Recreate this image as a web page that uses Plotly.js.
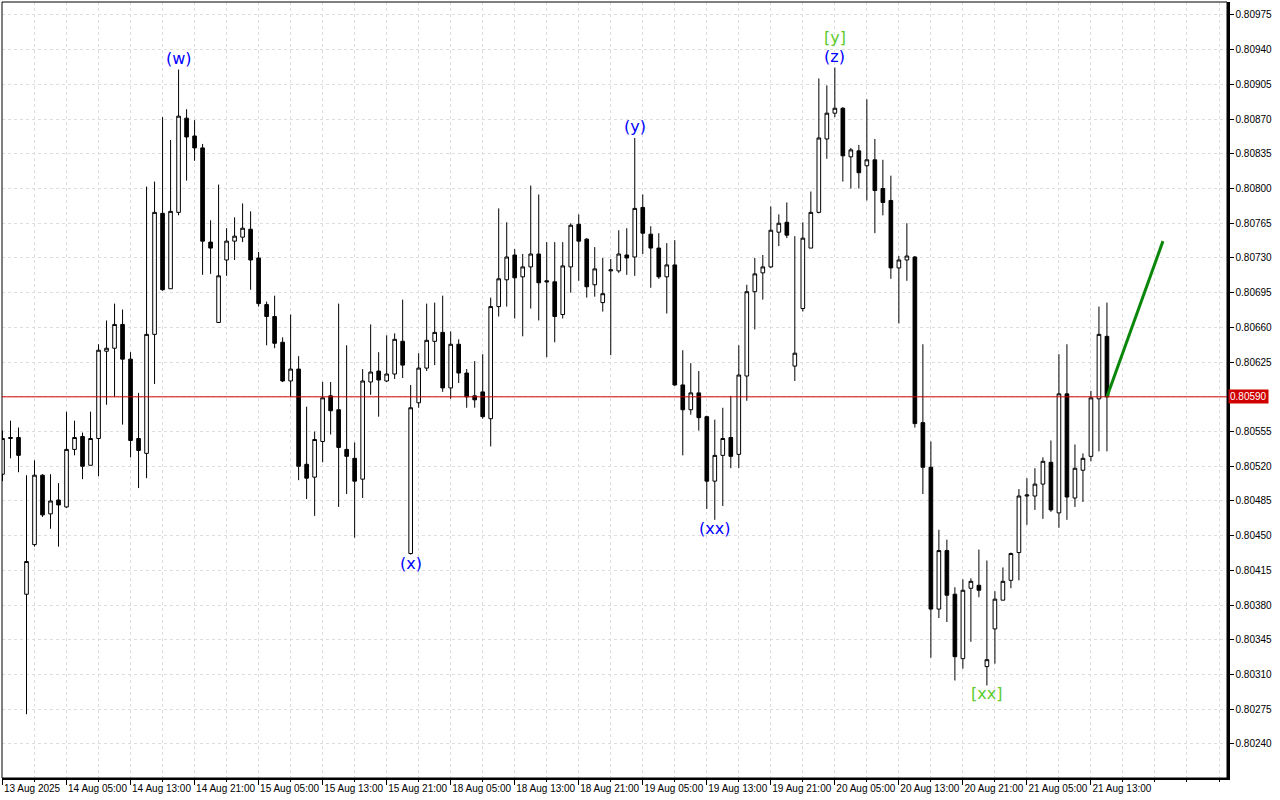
<!DOCTYPE html>
<html>
<head>
<meta charset="utf-8">
<script src="https://cdn.plot.ly/plotly-3.0.1.min.js"></script>
<style>
html,body{margin:0;padding:0;background:#ffffff;}
#chart{width:1280px;height:800px;}
</style>
</head>
<body>
<div id="chart"></div>
<script>
// ---- Data (H1 bars, 13 Aug 2025 21:00 .. 21 Aug 2025 18:00) ----
const opens = [
 0.80512,0.80548,0.80549,0.80391,0.80441,0.80511,0.80472,0.80486,0.80479,0.80537,
 0.80550,0.80521,0.80548,0.80636,0.80639,0.80663,0.80628,0.80548,0.80533,0.80653,
 0.80775,0.80699,0.80776,0.80871,0.80853,0.80841,0.80746,0.80665,0.80728,0.80747,
 0.80751,0.80759,0.80730,0.80683,0.80671,0.80645,0.80606,0.80618,0.80522,0.80509,
 0.80545,0.80591,0.80577,0.80537,0.80528,0.80507,0.80605,0.80616,0.80606,0.80613,
 0.80646,0.80432,0.80584,0.80619,0.80646,0.80655,0.80599,0.80643,0.80614,0.80591,
 0.80595,0.80568,0.80681,0.80708,0.80733,0.80711,0.80721,0.80734,0.80707,0.80706,
 0.80673,0.80721,0.80764,0.80749,0.80703,0.80685,0.80717,0.80717,0.80733,0.80731,
 0.80781,0.80754,0.80740,0.80711,0.80723,0.80602,0.80577,0.80594,0.80570,0.80505,
 0.80531,0.80549,0.80532,0.80611,0.80696,0.80715,0.80721,0.80756,0.80766,0.80621,
 0.80679,0.80740,0.80776,0.80850,0.80876,0.80881,0.80832,0.80838,0.80823,0.80829,
 0.80800,0.80788,0.80720,0.80728,0.80731,0.80564,0.80519,0.80376,0.80435,0.80391,
 0.80326,0.80397,0.80400,0.80318,0.80356,0.80385,0.80405,0.80433,0.80490,0.80490,
 0.80502,0.80524,0.80473,0.80593,0.80488,0.80516,0.80530,0.80588,0.80651
];
const highs = [
 0.80556,0.80566,0.80559,0.80511,0.80526,0.80512,0.80512,0.80503,0.80575,0.80566,
 0.80554,0.80575,0.80643,0.80667,0.80684,0.80678,0.80635,0.80594,0.80802,0.80807,
 0.80872,0.80849,0.80920,0.80880,0.80869,0.80845,0.80768,0.80804,0.80760,0.80771,
 0.80785,0.80777,0.80736,0.80686,0.80692,0.80650,0.80673,0.80631,0.80580,0.80555,
 0.80605,0.80605,0.80684,0.80642,0.80544,0.80618,0.80663,0.80635,0.80652,0.80654,
 0.80688,0.80602,0.80634,0.80684,0.80685,0.80692,0.80656,0.80648,0.80618,0.80626,
 0.80633,0.80690,0.80780,0.80766,0.80739,0.80734,0.80803,0.80794,0.80746,0.80746,
 0.80746,0.80765,0.80774,0.80750,0.80741,0.80730,0.80729,0.80758,0.80760,0.80851,
 0.80794,0.80762,0.80755,0.80745,0.80748,0.80637,0.80624,0.80616,0.80571,0.80567,
 0.80579,0.80591,0.80642,0.80703,0.80730,0.80733,0.80782,0.80774,0.80786,0.80752,
 0.80766,0.80797,0.80911,0.80904,0.80922,0.80882,0.80841,0.80844,0.80890,0.80850,
 0.80829,0.80813,0.80732,0.80765,0.80732,0.80643,0.80545,0.80456,0.80446,0.80398,
 0.80406,0.80407,0.80436,0.80425,0.80394,0.80418,0.80433,0.80497,0.80508,0.80518,
 0.80529,0.80546,0.80633,0.80643,0.80542,0.80533,0.80596,0.80681,0.80685
];
const lows = [
 0.80505,0.80528,0.80514,0.80270,0.80439,0.80469,0.80457,0.80439,0.80478,0.80531,
 0.80507,0.80521,0.80510,0.80582,0.80590,0.80562,0.80529,0.80498,0.80508,0.80603,
 0.80697,0.80699,0.80773,0.80808,0.80828,0.80713,0.80714,0.80665,0.80712,0.80728,
 0.80746,0.80698,0.80681,0.80642,0.80639,0.80605,0.80590,0.80506,0.80487,0.80470,
 0.80524,0.80552,0.80479,0.80492,0.80448,0.80488,0.80592,0.80570,0.80605,0.80608,
 0.80609,0.80431,0.80579,0.80616,0.80622,0.80595,0.80588,0.80604,0.80579,0.80579,
 0.80568,0.80540,0.80671,0.80681,0.80669,0.80651,0.80679,0.80667,0.80630,0.80645,
 0.80669,0.80695,0.80707,0.80690,0.80691,0.80676,0.80632,0.80715,0.80713,0.80712,
 0.80734,0.80700,0.80709,0.80674,0.80601,0.80531,0.80572,0.80556,0.80477,0.80466,
 0.80480,0.80518,0.80518,0.80586,0.80658,0.80688,0.80720,0.80742,0.80750,0.80606,
 0.80676,0.80740,0.80775,0.80830,0.80872,0.80807,0.80800,0.80800,0.80788,0.80755,
 0.80773,0.80709,0.80664,0.80707,0.80559,0.80492,0.80327,0.80367,0.80363,0.80304,
 0.80316,0.80343,0.80388,0.80299,0.80321,0.80385,0.80397,0.80405,0.80461,0.80476,
 0.80467,0.80474,0.80458,0.80466,0.80479,0.80484,0.80525,0.80535,0.80535
];
const closes = [
 0.80548,0.80549,0.80531,0.80424,0.80511,0.80471,0.80485,0.80481,0.80537,0.80549,
 0.80520,0.80548,0.80637,0.80639,0.80663,0.80628,0.80546,0.80536,0.80653,0.80776,
 0.80698,0.80777,0.80873,0.80852,0.80841,0.80747,0.80740,0.80712,0.80747,0.80752,
 0.80760,0.80728,0.80684,0.80671,0.80644,0.80606,0.80618,0.80520,0.80508,0.80547,
 0.80589,0.80576,0.80539,0.80530,0.80505,0.80606,0.80615,0.80607,0.80613,0.80648,
 0.80622,0.80579,0.80619,0.80647,0.80655,0.80599,0.80643,0.80614,0.80590,0.80587,
 0.80570,0.80681,0.80709,0.80731,0.80710,0.80721,0.80734,0.80705,0.80706,0.80671,
 0.80722,0.80763,0.80747,0.80701,0.80719,0.80694,0.80718,0.80734,0.80730,0.80780,
 0.80755,0.80740,0.80711,0.80723,0.80602,0.80577,0.80594,0.80569,0.80505,0.80531,
 0.80548,0.80530,0.80612,0.80696,0.80714,0.80721,0.80758,0.80765,0.80753,0.80634,
 0.80750,0.80776,0.80851,0.80876,0.80881,0.80833,0.80839,0.80816,0.80829,0.80798,
 0.80786,0.80720,0.80728,0.80732,0.80563,0.80519,0.80376,0.80435,0.80390,0.80328,
 0.80395,0.80404,0.80395,0.80325,0.80386,0.80404,0.80432,0.80490,0.80491,0.80502,
 0.80525,0.80476,0.80593,0.80489,0.80518,0.80528,0.80589,0.80653,0.80590
];

// time-axis labels, one every 8 bars
const timeLabels = [
 "13 Aug 2025","14 Aug 05:00","14 Aug 13:00","14 Aug 21:00","15 Aug 05:00",
 "15 Aug 13:00","15 Aug 21:00","18 Aug 05:00","18 Aug 13:00","18 Aug 21:00",
 "19 Aug 05:00","19 Aug 13:00","19 Aug 21:00","20 Aug 05:00","20 Aug 13:00",
 "20 Aug 21:00","21 Aug 05:00","21 Aug 13:00"
];
const barsPerLabel = 8;

// price-axis labels
const priceTicks = [
 0.80240,0.80275,0.80310,0.80345,0.80380,0.80415,0.80450,0.80485,0.80520,0.80555,
 0.80590,0.80625,0.80660,0.80695,0.80730,0.80765,0.80800,0.80835,0.80870,0.80905,
 0.80940,0.80975
];
const currentPrice = 0.80590;

// wave labels
const labelBars   = [22, 51, 79, 89, 104, 104, 123];
const labelTexts  = ["(w)", "(x)", "(y)", "(xx)", "(z)", "[y]", "[xx]"];
const labelSides  = ["above", "below", "above", "below", "above", "above", "below"];
const labelStack  = [0, 0, 0, 0, 0, 1, 0];
const labelDegree = ["minor","minor","minor","minor","minor","intermediate","intermediate"];

// projected wave (bar index, price)
const projectionBars   = [138, 145];
const projectionPrices = [0.80590, 0.80747];

// ---- Build ----
const barIndex = closes.map((_, i) => i);
const BLUE = "#0000ff", GREEN_LBL = "#5ccc2e";
const GRID = "#dedede";
const tickFont = {family: "Tahoma, 'Liberation Sans', Arial, sans-serif", size: 10, color: "#000000"};

const candle = {
  type: "candlestick",
  x: barIndex, open: opens, high: highs, low: lows, close: closes,
  increasing: {line: {color: "#000000", width: 1}, fillcolor: "#ffffff"},
  decreasing: {line: {color: "#000000", width: 1}, fillcolor: "#000000"},
  whiskerwidth: 0,
  hoverinfo: "skip",
  showlegend: false
};

const projection = {
  type: "scatter", mode: "lines",
  x: projectionBars, y: projectionPrices,
  line: {color: "#0a870a", width: 3},
  hoverinfo: "skip", showlegend: false
};

const annotations = labelBars.map((b, k) => {
  const above = labelSides[k] === "above";
  return {
    x: b, y: above ? highs[b] : lows[b], xref: "x", yref: "y",
    text: labelTexts[k], showarrow: false,
    xanchor: "center", yanchor: above ? "bottom" : "top",
    yshift: above ? (labelStack[k] * 19) : 3,
    font: {family: "'DejaVu Sans', Verdana, sans-serif", size: 16,
           color: labelDegree[k] === "minor" ? BLUE : GREEN_LBL}
  };
});
annotations.push({
  xref: "paper", x: 1, xanchor: "left", xshift: 1,
  yref: "y", y: currentPrice, yanchor: "middle",
  text: currentPrice.toFixed(5), showarrow: false,
  bgcolor: "#d00000", borderpad: 1,
  font: {family: tickFont.family, size: 10, color: "#ffffff"}
});

const layout = {
  width: 1280, height: 800,
  margin: {l: 2, r: 53, t: 2, b: 22, pad: 0},
  paper_bgcolor: "#ffffff", plot_bgcolor: "#ffffff",
  showlegend: false, hovermode: false,
  boxgap: 0.35,
  xaxis: {
    type: "linear",
    range: [-0.0625, 153.0],
    tickmode: "array",
    tickvals: timeLabels.map((_, k) => k * barsPerLabel),
    ticktext: timeLabels,
    tickangle: 0,
    ticks: "outside", ticklen: 5, tickcolor: "#000000", tickwidth: 1,
    ticklabelposition: "outside right",
    tickfont: tickFont,
    showline: true, linecolor: "#000000", linewidth: 2,
    showgrid: true, gridcolor: GRID, griddash: "3px,3px", gridwidth: 1,
    minor: {tickmode: "linear", tick0: 0, dtick: barsPerLabel / 2, ticks: "outside",
            ticklen: 2, tickcolor: "#000000", showgrid: true, gridcolor: GRID, griddash: "3px,3px"},
    zeroline: false,
    rangeslider: {visible: false},
    fixedrange: true
  },
  yaxis: {
    side: "right",
    range: [0.802057, 0.809881],
    tickmode: "array",
    tickvals: priceTicks,
    ticktext: priceTicks.map(v => Math.abs(v - currentPrice) < 1e-7 ? "" : v.toFixed(5)),
    ticks: "outside", ticklen: 4, tickcolor: "#000000",
    tickfont: tickFont,
    showline: true, linecolor: "#000000", linewidth: 2.5,
    showgrid: true, gridcolor: GRID, griddash: "3px,3px",
    zeroline: false, fixedrange: true
  },
  shapes: [
    {type: "rect", xref: "paper", yref: "paper", x0: 0, x1: 1, y0: 0, y1: 1,
     line: {color: "#000000", width: 1}, layer: "above"},
    {type: "line", xref: "paper", yref: "y", x0: 0, x1: 1, y0: currentPrice, y1: currentPrice,
     line: {color: "#d00000", width: 1}, layer: "above"}
  ],
  annotations: annotations
};

Plotly.newPlot("chart", [candle, projection], layout, {staticPlot: true, displayModeBar: false});
</script>
</body>
</html>
